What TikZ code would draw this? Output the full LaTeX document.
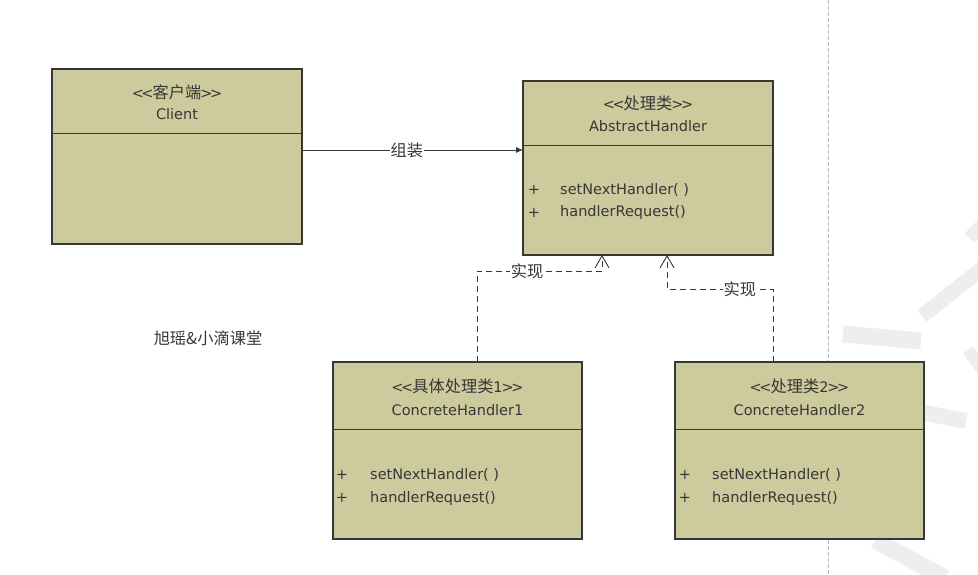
\documentclass[tikz,border=0pt]{standalone}
\usepackage{fontspec}
\setmainfont{DejaVu Sans}
\newfontfamily\cjk[Scale=1.12]{Noto Sans CJK SC}
\usepackage{xcolor}
\usepackage{tikz}
\usetikzlibrary{arrows.meta,calc}
\definecolor{ink}{RGB}{55,55,55}
\definecolor{khaki}{RGB}{205,202,158}
\definecolor{wmgray}{RGB}{238,238,238}
\newcommand{\zh}[1]{{\cjk #1}}
\newcommand{\stereo}[1]{<\kern-2.5pt<\kern-1pt#1\kern-1pt>\kern-2.5pt>}

\begin{document}
\begin{tikzpicture}[
  x=1pt,y=-1pt,
  cls/.style={rectangle,draw=ink,fill=khaki,line width=1.1pt,inner sep=0pt,outer sep=0pt},
  divider/.style={draw=ink,line width=1pt},
  txt/.style={inner sep=0pt,text=ink,font=\fontsize{14.5}{17}\selectfont},
  lbl/.style={txt,fill=white,inner xsep=1pt,inner ysep=1pt},
  assoc/.style={-{Latex[length=7pt,width=6pt]},draw=ink,line width=0.9pt},
  realize/.style={-{Straight Barb[length=12pt,width=14pt]},draw=ink,line width=0.9pt,dash pattern=on 6pt off 4pt},
  sepline/.style={draw=gray!55,line width=0.6pt,dash pattern=on 4pt off 2pt},
  wmark/.style={draw=wmgray,line width=16pt}
]
\useasboundingbox (0,0) rectangle (978,575);

% watermark strokes
\begin{scope}
  \clip (0,0) rectangle (978,575);
  \draw[wmark,line width=15pt] (922,316) -- (985,266);
  \draw[wmark,line width=13pt] (969,238) -- (985,222);
  \draw[wmark,line width=17pt] (843,334) -- (921,341);
  \draw[wmark,line width=12pt] (968,350) -- (985,374);
  \draw[wmark] (920,412) -- (966,421);
  \draw[wmark,line width=17pt] (875,540) -- (945,578);
\end{scope}
\draw[sepline] (828,0) -- (828,575);

% classes
\node[cls,minimum width=250pt,minimum height=175pt] (client) at (177,156.5) {};
\draw[divider] ([yshift=-65pt]client.north west) -- ([yshift=-65pt]client.north east);
\node[txt] (client-st) at (177,92) {\stereo{\zh{客户端}}};
\node[txt] (client-name) at (177,114) {Client};

\node[cls,minimum width=250pt,minimum height=174pt] (abstract) at (648,168) {};
\draw[divider] ([yshift=-65pt]abstract.north west) -- ([yshift=-65pt]abstract.north east);
\node[txt] (abstract-st) at (648,103) {\stereo{\zh{处理类}}};
\node[txt] (abstract-name) at (648,126) {AbstractHandler};
\node[txt] (abstract-p1) at (534,190) {+};
\node[txt,anchor=west] (abstract-m1) at (560,190) {setNextHandler( )};
\node[txt] (abstract-p2) at (534,213) {+};
\node[txt,anchor=west] (abstract-m2) at (560,213) {handlerRequest()};

\node[cls,minimum width=249pt,minimum height=177pt] (ch1) at (457.5,450.5) {};
\draw[divider] ([yshift=-67pt]ch1.north west) -- ([yshift=-67pt]ch1.north east);
\node[txt] (ch1-st) at (457.5,386) {\stereo{\zh{具体处理类}1}};
\node[txt] (ch1-name) at (457.5,410) {ConcreteHandler1};
\node[txt] (ch1-p1) at (342,475) {+};
\node[txt,anchor=west] (ch1-m1) at (370,475) {setNextHandler( )};
\node[txt] (ch1-p2) at (342,498) {+};
\node[txt,anchor=west] (ch1-m2) at (370,498) {handlerRequest()};

\node[cls,minimum width=249pt,minimum height=177pt] (ch2) at (799.5,450.5) {};
\draw[divider] ([yshift=-67pt]ch2.north west) -- ([yshift=-67pt]ch2.north east);
\node[txt] (ch2-st) at (799.5,386) {\stereo{\zh{处理类}2}};
\node[txt] (ch2-name) at (799.5,410) {ConcreteHandler2};
\node[txt] (ch2-p1) at (685,475) {+};
\node[txt,anchor=west] (ch2-m1) at (712,475) {setNextHandler( )};
\node[txt] (ch2-p2) at (685,498) {+};
\node[txt,anchor=west] (ch2-m2) at (712,498) {handlerRequest()};

\node[txt] (credit) at (208,338) {\zh{旭瑶\&小滴课堂}};

% connectors
\draw[assoc] ([yshift=6.5pt]client.east) -- node[lbl,pos=0.475] {\zh{组装}} ([yshift=6.5pt]client.east -| abstract.west);
\draw[realize] ([xshift=19.5pt]ch1.north) |- node[lbl,pos=0.7] {\zh{实现}} ($(abstract.south)+(-46,16)$) -- ([xshift=-46pt]abstract.south);
\draw[realize] ([xshift=-26.5pt]ch2.north) |- node[lbl,pos=0.656] {\zh{实现}} ($(abstract.south)+(19,34)$) -- ([xshift=19pt]abstract.south);
\end{tikzpicture}
\end{document}
